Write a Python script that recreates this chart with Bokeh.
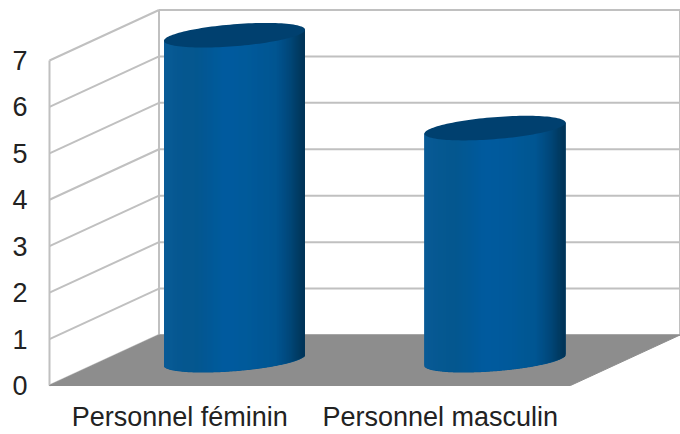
import numpy as np
from bokeh.plotting import figure
from bokeh.models import FixedTicker, Range1d
from bokeh.embed import file_html
from bokeh.resources import INLINE

categories = ["Personnel féminin", "Personnel masculin"]
values = [7, 5]
y_ticks = [0, 1, 2, 3, 4, 5, 6, 7]

# scales: pixels per unit
PX_Y = 46.43
PX_X = 260.5
DX = 109.5 / PX_X      # oblique depth offset, in category units
DY = 50.5 / PX_Y       # oblique depth offset, in value units
Y_MAX = y_ticks[-1]
N = len(categories)

GRID = "#c0c0c0"
FLOOR = "#8d8d8d"
CAP = "#00406f"
BODY = "#00558f"

p = figure(width=680, height=434, output_backend="svg", toolbar_location=None,
           x_range=Range1d(-7 / PX_X, 631 / PX_X),
           y_range=Range1d(-1 / PX_Y, 385 / PX_Y),
           min_border_left=42, min_border_right=0, min_border_top=0, min_border_bottom=48)
p.outline_line_color = None
p.grid.visible = False
p.background_fill_color = "white"

# walls
t = np.array(y_ticks, dtype=float)
p.segment(x0=0 * t, y0=t, x1=DX + 0 * t, y1=t + DY, line_color=GRID, line_width=2)
p.segment(x0=DX + 0 * t, y0=t + DY, x1=N + DX + 0 * t, y1=t + DY, line_color=GRID, line_width=2)
p.segment(x0=[0, DX, N + DX], y0=[0, DY, DY], x1=[0, DX, N + DX], y1=[Y_MAX, Y_MAX + DY, Y_MAX + DY],
          line_color=GRID, line_width=2)

# floor
p.patch([0, N, N + DX, DX], [0, 0, DY, DY], fill_color=FLOOR, fill_alpha=1, line_color=FLOOR, line_width=1)

# cylinders
A = 70.5 / PX_X
B = 11.0 / PX_Y
S = 5.5 / PX_Y
stops_u = [-1.0, -0.8, -0.55, -0.1, 0.25, 0.6, 0.8, 0.92, 1.0]
stops_r = [10, 7, 5, 0, 0, 0, 0, 0, 0]
stops_g = [92, 89, 87, 92, 90, 86, 72, 60, 52]
stops_b = [152, 146, 143, 160, 154, 146, 122, 100, 88]
for i, v in enumerate(values):
    cx = i + 0.5 + DX / 2
    cy0 = DY / 2
    cy1 = v + DY / 2
    u = np.linspace(-1, 1, 142)
    half = 1.6 / PX_X
    rim = np.sqrt(np.clip(1 - u ** 2, 0, 1))
    bottom = cy0 + S * u - B * rim
    top = cy1 + S * u
    colors = ["#%02x%02x%02x" % (int(np.interp(w, stops_u, stops_r)),
                                 int(np.interp(w, stops_u, stops_g)),
                                 int(np.interp(w, stops_u, stops_b))) for w in u]
    # solid underlay of the body, then shaded strips
    p.patch(np.concatenate([cx + u * A, (cx + u * A)[::-1]]),
            np.concatenate([bottom, top[::-1]]),
            fill_color=BODY, fill_alpha=1, line_color=None)
    p.quad(left=np.maximum(cx + u * A - half, cx - A), right=np.minimum(cx + u * A + half, cx + A),
           bottom=bottom + 0.6 / PX_Y, top=top,
           fill_color=colors, fill_alpha=1, line_color=None)
    th = np.linspace(0, 2 * np.pi, 120)
    p.patch(cx + A * np.cos(th), cy1 + S * np.cos(th) + B * np.sin(th),
            fill_color=CAP, fill_alpha=1, line_color=None)

# axes
for ax in (p.yaxis, p.xaxis):
    ax.axis_line_color = None
    ax.major_tick_line_color = None
    ax.minor_tick_line_color = None
    ax.major_tick_out = 0
    ax.major_tick_in = 0
    ax.minor_tick_out = 0
    ax.major_label_text_font = "Liberation Sans"
    ax.major_label_text_font_size = "27px"
    ax.major_label_text_color = "#222222"

p.yaxis.ticker = FixedTicker(ticks=y_ticks)
p.yaxis.major_label_standoff = 15

p.xaxis.ticker = FixedTicker(ticks=[i + 0.5 for i in range(N)])
p.xaxis.major_label_overrides = {i + 0.5: c for i, c in enumerate(categories)}
p.xaxis.major_label_standoff = 15

open("out.html", "w").write(file_html(p, INLINE))
